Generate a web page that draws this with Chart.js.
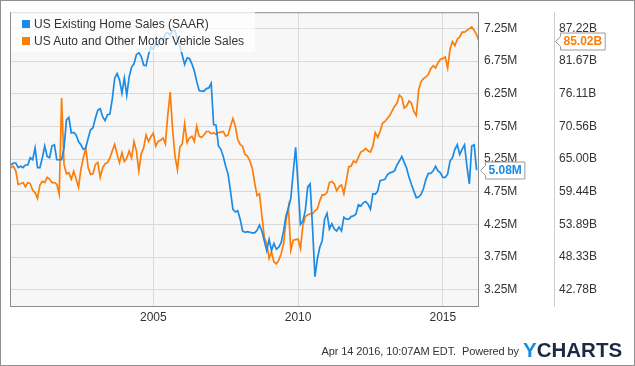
<!DOCTYPE html>
<html>
<head>
<meta charset="utf-8">
<script src="https://cdn.jsdelivr.net/npm/chart.js@4.4.1/dist/chart.umd.min.js"></script>
<style>
  html, body { margin: 0; padding: 0; background: #ffffff; }
  #wrap { position: relative; width: 635px; height: 366px; overflow: hidden; font-family: 'Liberation Sans', Arial, sans-serif; }
  #c { position: absolute; left: 0; top: 0; }
  #frame { position: absolute; left: 0; top: 0; width: 635px; height: 366px; box-sizing: border-box; border: 1px solid #8f8f8f; pointer-events: none; }
  #legend { position: absolute; left: 11px; top: 11px; width: 244px; height: 41px; background: rgba(255,255,255,0.72); }
  .item { position: absolute; left: 11px; font-size: 12px; line-height: 14px; color: #333; white-space: nowrap; }
  .item i { display: inline-block; width: 8px; height: 8px; margin-right: 4px; vertical-align: 0px; }
  #footer { position: absolute; right: 116px; top: 345px; font-size: 11px; line-height: 12px; color: #333; white-space: nowrap; letter-spacing: -0.1px; }
  #logo { position: absolute; left: 523px; top: 340px; font-size: 20.5px; line-height: 20px; font-weight: bold; color: #1c2a46; white-space: nowrap; }
  #logo span { color: #1a8ce0; }
</style>
</head>
<body>
<div id="wrap">
  <canvas id="c" width="635" height="366"></canvas>
  <div id="legend"></div>
  <div id="footer">Apr 14 2016, 10:07AM EDT.&nbsp; Powered by</div>
  <div id="logo"><span>Y</span>CHARTS</div>
  <div id="frame"></div>
</div>
<script>
// Monthly data, first value = Jan 2000 (plotted at month end)
const START_YEAR = 2000;

// US Existing Home Sales (SAAR), millions
const homeSales = [
  5.16,5.19,5.19,5.12,5.14,5.12,5.16,5.16,5.27,5.24,5.42,5.12,
  5.12,5.27,5.45,5.29,5.27,5.45,5.47,5.24,5.24,5.24,5.42,5.85,
  5.89,5.65,5.66,5.62,5.52,5.47,5.40,5.42,5.57,5.70,5.73,5.88,
  6.00,6.02,5.90,5.84,5.93,5.94,6.17,6.49,6.56,6.46,6.26,6.49,
  6.23,6.51,6.66,6.71,6.85,6.88,6.82,6.69,6.68,6.85,6.97,6.93,
  7.02,6.99,7.10,7.07,7.17,7.19,7.15,7.22,7.22,7.08,6.99,6.84,
  6.70,6.80,6.79,6.71,6.60,6.44,6.30,6.29,6.29,6.33,6.34,6.41,
  5.78,5.77,5.45,5.40,5.29,5.14,5.02,4.76,4.48,4.44,4.46,4.33,
  4.15,4.13,4.14,4.13,4.12,4.12,4.16,4.24,4.15,4.00,3.85,4.02,
  3.85,3.96,3.87,3.90,3.97,4.15,4.38,4.50,4.65,5.05,5.43,4.85,
  4.25,4.30,4.46,4.82,4.87,4.20,3.45,3.72,3.90,4.00,4.33,4.42,
  4.18,4.26,4.18,4.15,4.21,4.15,4.36,4.33,4.33,4.37,4.38,4.41,
  4.55,4.53,4.58,4.60,4.56,4.48,4.72,4.71,4.76,4.92,4.93,4.94,
  5.01,5.04,5.05,5.07,5.16,5.22,5.29,5.20,5.11,4.97,4.86,4.76,
  4.66,4.67,4.71,4.80,4.94,5.03,5.03,5.07,5.14,5.07,5.04,4.97,
  4.97,5.02,5.22,5.27,5.40,5.47,5.32,5.40,5.47,5.14,4.87,5.45,
  5.47,5.08
];

// US Auto and Other Motor Vehicle Sales, billions
const autoSales = [
  63.5,63.8,63.0,60.7,60.8,61.0,60.3,61.0,60.8,59.7,59.3,58.3,
  60.6,61.2,61.0,61.9,61.6,61.0,61.0,60.7,59.0,75.4,64.1,62.5,
  62.7,61.6,62.9,61.6,60.2,63.3,65.2,66.9,63.5,62.4,62.5,64.1,
  64.4,61.9,63.5,64.2,64.4,65.2,66.4,67.5,65.8,64.4,66.1,64.6,
  65.2,66.4,65.2,68.0,66.4,63.0,65.9,66.9,69.1,68.0,68.8,69.4,
  67.2,68.0,68.2,68.6,67.6,72.5,76.4,70.0,65.5,63.2,67.0,67.6,
  71.0,67.8,68.6,68.9,68.0,70.6,68.9,68.7,69.1,69.7,69.7,69.3,
  69.5,69.2,69.5,69.6,69.7,68.9,69.1,70.6,71.9,70.6,68.3,67.5,
  67.2,65.8,65.5,64.7,63.5,61.0,58.8,59.1,55.4,51.7,50.6,48.1,
  49.2,47.5,47.2,47.8,48.9,50.6,54.5,56.8,49.5,51.2,51.3,51.4,
  49.8,53.7,55.2,55.5,55.7,55.7,56.2,56.5,57.9,58.9,58.9,59.3,
  61.0,61.2,60.8,59.6,60.3,60.6,59.1,61.3,63.7,63.8,64.7,64.4,
  65.3,66.2,66.4,66.8,66.4,66.2,67.2,69.5,68.7,69.7,71.1,71.4,
  71.9,72.4,73.2,74.0,74.5,75.9,75.5,73.7,74.0,74.9,74.5,73.1,
  72.4,76.8,78.2,78.7,79.0,79.4,80.4,80.9,80.5,81.4,82.0,82.1,
  82.4,80.5,83.7,85.0,84.3,85.4,85.8,86.6,86.6,86.9,87.2,87.5,
  86.9,86.2,85.02
];

const seriesNames = ['US Existing Home Sales (SAAR)', 'US Auto and Other Motor Vehicle Sales'];
const seriesColors = ['#1b8be5', '#fb7e0c'];
const xTickYears = [2005, 2010, 2015];
const leftTickValues = [3.25, 3.75, 4.25, 4.75, 5.25, 5.75, 6.25, 6.75, 7.25];
const rightTickValues = [42.78, 48.33, 53.89, 59.44, 65.00, 70.56, 76.11, 81.67, 87.22];
const xRange = [2000.05, 2016.25];
const leftRange = [3.0, 7.5];
const rightRange = [40, 90];

const toPoints = arr => arr.map((v, i) => ({ x: START_YEAR + (i + 1) / 12, y: v }));

// HTML legend
const legendEl = document.getElementById('legend');
seriesNames.forEach((name, i) => {
  const d = document.createElement('div');
  d.className = 'item';
  d.style.top = (i === 0 ? 6 : 23) + 'px';
  d.innerHTML = '<i style="background:' + seriesColors[i] + '"></i>' + name;
  legendEl.appendChild(d);
});

const FONT = "'Liberation Sans', Arial, sans-serif";

const chromePlugin = {
  id: 'chrome',
  beforeDraw(chart) {
    const { ctx, chartArea: a } = chart;
    ctx.save();
    ctx.fillStyle = '#ffffff';
    ctx.fillRect(0, 0, chart.width, chart.height);
    ctx.fillStyle = '#f7f7f7';
    ctx.fillRect(a.left, a.top, a.right - a.left, a.bottom - a.top);
    ctx.restore();
  },
  afterDraw(chart) {
    const { ctx, chartArea: a } = chart;
    ctx.save();
    ctx.strokeStyle = '#8c8c8c';
    ctx.lineWidth = 1;
    ctx.strokeRect(a.left + 0.5, a.top + 0.5, a.right - a.left - 1, a.bottom - a.top);
    // value tags
    const tags = [
      { scale: chart.scales.y, value: homeSales[homeSales.length - 1], text: homeSales[homeSales.length - 1].toFixed(2) + 'M', color: seriesColors[0] },
      { scale: chart.scales.y2, value: autoSales[autoSales.length - 1], text: autoSales[autoSales.length - 1].toFixed(2) + 'B', color: seriesColors[1] }
    ];
    ctx.font = 'bold 12px ' + FONT;
    tags.forEach(t => {
      const y = Math.round(t.scale.getPixelForValue(t.value)) + 0.5;
      const tip = t.scale.left + 1.5;
      const bx = t.scale.left + 6.5;
      const w = ctx.measureText(t.text).width + 6;
      const h = 17;
      ctx.beginPath();
      ctx.moveTo(tip, y);
      ctx.lineTo(bx, y - 5);
      ctx.lineTo(bx, y - h / 2);
      ctx.lineTo(bx + w, y - h / 2);
      ctx.lineTo(bx + w, y + h / 2);
      ctx.lineTo(bx, y + h / 2);
      ctx.lineTo(bx, y + 5);
      ctx.closePath();
      ctx.fillStyle = '#ffffff';
      ctx.fill();
      ctx.strokeStyle = '#9a9a9a';
      ctx.stroke();
      ctx.fillStyle = t.color;
      ctx.textBaseline = 'middle';
      ctx.textAlign = 'left';
      ctx.fillText(t.text, bx + 3, y + 0.5);
    });
    ctx.restore();
  }
};

new Chart(document.getElementById('c'), {
  type: 'line',
  data: {
    datasets: [
      { label: seriesNames[0], data: toPoints(homeSales), yAxisID: 'y', borderColor: seriesColors[0], backgroundColor: seriesColors[0], borderWidth: 1.7, pointRadius: 0, tension: 0, fill: false },
      { label: seriesNames[1], data: toPoints(autoSales), yAxisID: 'y2', borderColor: seriesColors[1], backgroundColor: seriesColors[1], borderWidth: 1.7, pointRadius: 0, tension: 0, fill: false }
    ]
  },
  options: {
    responsive: false,
    animation: false,
    devicePixelRatio: 1,
    parsing: true,
    layout: { padding: { left: 10, top: 10, right: 0, bottom: 0 } },
    plugins: { legend: { display: false }, tooltip: { enabled: false } },
    scales: {
      x: {
        type: 'linear',
        min: xRange[0], max: xRange[1],
        afterBuildTicks: s => { s.ticks = xTickYears.map(v => ({ value: v })); },
        afterFit: s => { s.height = 60; },
        ticks: { callback: v => String(v), font: { family: FONT, size: 12 }, color: '#333', padding: 4, maxRotation: 0, autoSkip: false },
        grid: { color: '#d9d9d9', drawTicks: false },
        border: { display: false }
      },
      y: {
        type: 'linear', position: 'right',
        min: leftRange[0], max: leftRange[1],
        afterBuildTicks: s => { s.ticks = leftTickValues.map(v => ({ value: v })); },
        afterFit: s => { s.width = 75; },
        ticks: { callback: v => v.toFixed(2) + 'M', font: { family: FONT, size: 12 }, color: '#333', padding: 5, autoSkip: false },
        grid: { color: '#d9d9d9', drawTicks: false },
        border: { display: false }
      },
      y2: {
        type: 'linear', position: 'right',
        min: rightRange[0], max: rightRange[1],
        afterBuildTicks: s => { s.ticks = rightTickValues.map(v => ({ value: v })); },
        afterFit: s => { s.width = 81; },
        ticks: { callback: v => v.toFixed(2) + 'B', font: { family: FONT, size: 12 }, color: '#333', padding: 5, autoSkip: false },
        grid: { drawOnChartArea: false, drawTicks: false },
        border: { display: true, color: '#cccccc', width: 1 }
      }
    }
  },
  plugins: [chromePlugin]
});
</script>
</body>
</html>
